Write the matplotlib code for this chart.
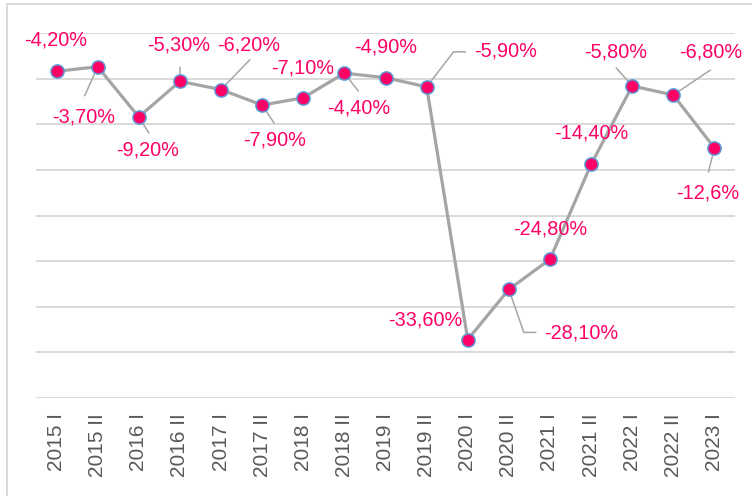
import numpy as np
import matplotlib
matplotlib.use("Agg")
import matplotlib.pyplot as plt
from matplotlib.transforms import offset_copy
from matplotlib.lines import Line2D

plt.rcParams['font.family'] = ['Liberation Sans', 'DejaVu Sans']

# data -------------------------------------------------------------
periods = ['2015 I', '2015 II', '2016 I', '2016 II', '2017 I', '2017 II',
           '2018 I', '2018 II', '2019 I', '2019 II', '2020 I', '2020 II',
           '2021 I', '2021 II', '2022 I', '2022 II', '2023 I']
values = [-4.2, -3.7, -9.2, -5.3, -6.2, -7.9, -7.1, -4.4, -4.9, -5.9,
          -33.6, -28.1, -24.8, -14.4, -5.8, -6.8, -12.6]
labels = ['-4,20%', '-3,70%', '-9,20%', '-5,30%', '-6,20%', '-7,90%',
          '-7,10%', '-4,40%', '-4,90%', '-5,90%', '-33,60%', '-28,10%',
          '-24,80%', '-14,40%', '-5,80%', '-6,80%', '-12,6%']

# label placement in pixels relative to the point (dx, dy down)
# text offset, leader path (list of points) or None
label_off = [(-1, -31), (-14, 50), (9, 33), (-1, -36), (28, -45), (12, 35),
             (-1, -30), (14, 35), (0, -31), (79, -36), (-42, -20), (72, 44),
             (0, -30), (0, -31), (-17, -34), (37, -43), (-7, 45)]
leaders = [None, [(-13, 29)], [(10, 16)], [(0, -14)], [(29, -30)], [(12, 18)],
           None, [(14, 18)], None, [(27, -35), (39, -35)], None,
           [(15, 43), (27, 43)], None, None, [(-16, -18)], [(37, -25)],
           [(-6, 24)]]

pink = '#FF0066'
gray_line = '#A5A5A5'
grid_col = '#D9D9D9'

# figure -----------------------------------------------------------
W, H = 752, 496
fig = plt.figure(figsize=(W / 100, H / 100), dpi=100)
ax = fig.add_axes([36 / W, 1 - 398 / H, (735 - 36) / W, (398 - 33) / H])

x = np.arange(len(periods))
ax.plot(x, values, color=gray_line, lw=2.3, zorder=3)
ax.plot(x, values, 'o', ms=9.5, mfc=pink, mec='#5B9BD5', mew=1.1,
        ls='none', zorder=5)

ax.set_xlim(-0.5, len(periods) - 0.5)
ax.set_ylim(-40, 0)
ax.set_yticks(np.arange(-40, 1, 5))
ax.yaxis.grid(True, color=grid_col, lw=1.4)
ax.set_axisbelow(True)
ax.tick_params(axis='y', left=False, labelleft=False)
ax.tick_params(axis='x', length=0, pad=11, labelsize=15, labelcolor='#595959')
ax.set_xticks(x)
ax.set_xticklabels(periods, rotation=90, va='top', ha='center')
for s in ax.spines.values():
    s.set_visible(False)

# data labels and leader lines
for i, (v, lab) in enumerate(zip(values, labels)):
    dx, dy = label_off[i]
    tr = offset_copy(ax.transData, fig=fig, x=dx, y=-dy, units='dots')
    ax.text(x[i], v, lab, transform=tr, ha='center', va='center',
            color=pink, fontsize=14.3, zorder=6)
    if leaders[i]:
        path = [(0, 0)] + leaders[i]
        for (ax0, ay0), (ax1, ay1) in zip(path[:-1], path[1:]):
            t0 = offset_copy(ax.transData, fig=fig, x=ax0, y=-ay0, units='dots')
            t1 = offset_copy(ax.transData, fig=fig, x=ax1, y=-ay1, units='dots')
            ax.annotate('', xy=(x[i], v), xycoords=t1,
                        xytext=(x[i], v), textcoords=t0,
                        arrowprops=dict(arrowstyle='-', color='#A6A6A6',
                                        lw=1.1, shrinkA=0, shrinkB=0),
                        zorder=4, annotation_clip=False)

# chart frame (partly cropped)
fig.add_artist(Line2D([7 / W, 7 / W], [0, 1 - 4 / H], color=grid_col, lw=1.4))
fig.add_artist(Line2D([7 / W, 1], [1 - 4 / H, 1 - 4 / H], color=grid_col, lw=1.4))

fig.savefig('out.png', dpi=100)
